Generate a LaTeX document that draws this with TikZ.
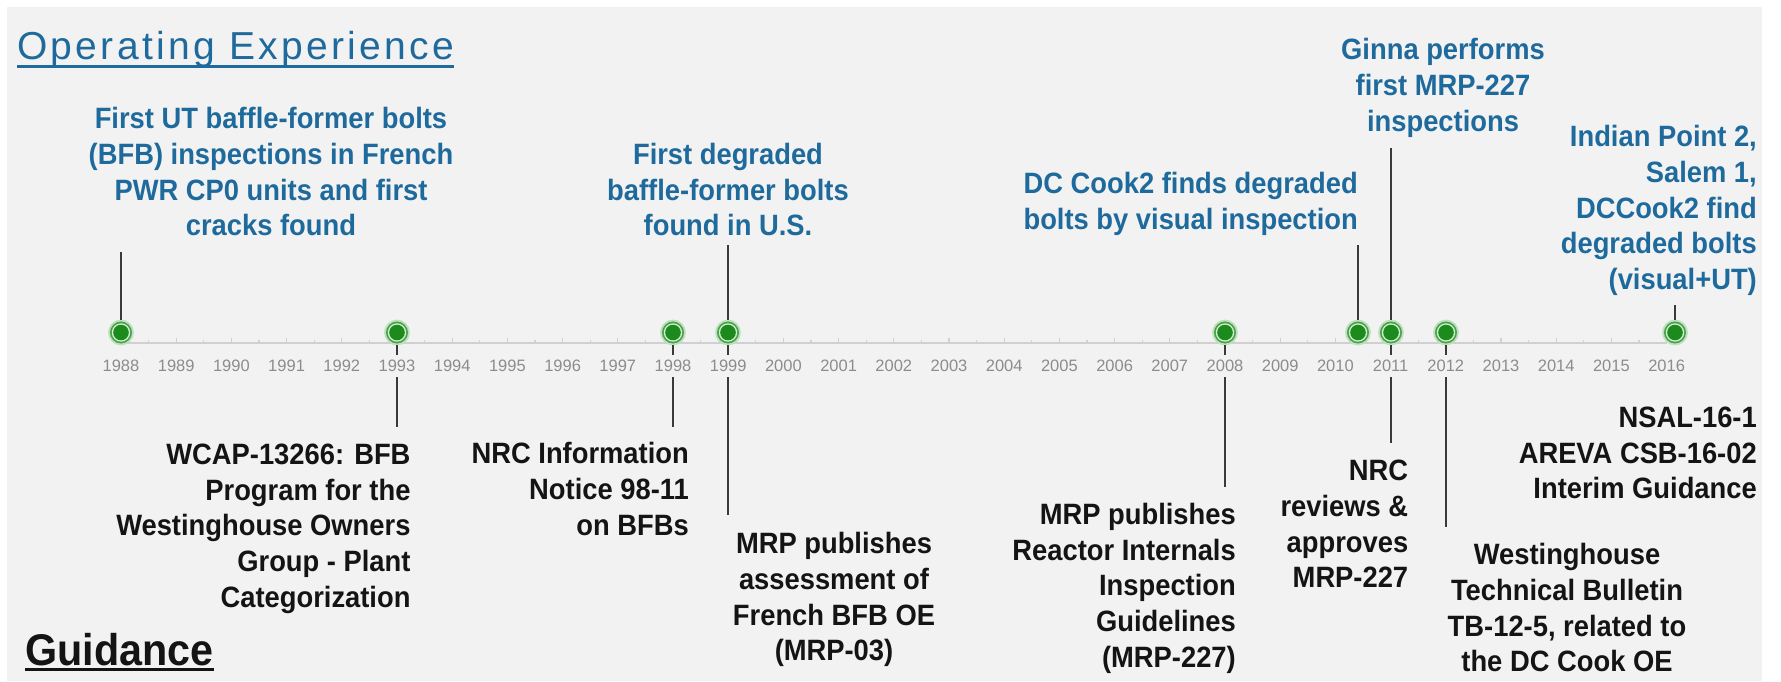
\documentclass[tikz,border=0pt]{standalone}
\usepackage{fontspec}
\setmainfont{Liberation Sans}
\newfontfamily\tlfont[FakeStretch=0.93]{Liberation Sans Bold}
\newfontfamily\headfont[LetterSpace=8.5]{Liberation Sans}
\definecolor{bg}{HTML}{F2F2F2}
\definecolor{oeblue}{HTML}{1F6A9C}
\definecolor{gdark}{HTML}{1C8A1C}
\definecolor{gmid}{HTML}{45A345}
\definecolor{gring}{HTML}{D6EDD6}
\definecolor{ghalo}{HTML}{BEE0BE}
\definecolor{yeargray}{HTML}{8C8C8C}
\definecolor{axisgray}{HTML}{D0D0D0}
\definecolor{conncol}{HTML}{3A3A3A}
\definecolor{gdblack}{HTML}{141414}
\newcommand{\tlstrut}{\rule{0pt}{22.3pt}}
\tikzset{
  evtext/.style={font=\tlfont\fontsize{29.4}{35.7}\selectfont, inner sep=0pt},
  oetext/.style={evtext, text=oeblue},
  gdtext/.style={evtext, text=gdblack},
  yearlbl/.style={font=\fontsize{16.5}{18}\selectfont, text=yeargray, fill=bg,
    inner xsep=1pt, inner ysep=0pt, minimum height=22pt},
  evmark/.style={circle, inner sep=0pt, minimum size=24pt, fill=gmid,
    draw=ghalo, line width=1.8pt,
    path picture={\fill[gring] (path picture bounding box.center) circle (9.2pt);
                  \fill[gdark] (path picture bounding box.center) circle (7.8pt);}},
  connline/.style={draw=conncol, line width=1.5pt},
  axisline/.style={draw=axisgray, line width=1.3pt},
}
\begin{document}
\begin{tikzpicture}[x=1pt,y=-1pt]
\useasboundingbox (0,0) rectangle (1781,681);
\fill[white] (0,0) rectangle (1781,681);
\fill[bg] (7,7) rectangle (1762,681);

% axis
\draw[axisline] (121,343) -- (1667,343);
\foreach \i in {0,...,28} \draw[axisline] ({121+\i*55.2},343) -- ++(0,-5);
\foreach \i in {0,...,27} \draw[axisline] ({121+(\i+0.5)*55.2},343) -- ++(0,-3);

% markers
\node[evmark] (m1988) at (121,332.5) {};
\node[evmark] (m1993) at (397,332.5) {};
\node[evmark] (m1998) at (673,332.5) {};
\node[evmark] (m1999) at (728,332.5) {};
\node[evmark] (m2008) at (1225,332.5) {};
\node[evmark] (m2010) at (1358,332.5) {};
\node[evmark] (m2011) at (1391,332.5) {};
\node[evmark] (m2012) at (1446,332.5) {};
\node[evmark] (m2016) at (1675,332.5) {};

% headings
\node[font=\headfont\fontsize{39}{44}\selectfont, text=oeblue, inner sep=0pt, anchor=base west]
  (oehead) at (17,59.3) {Operating Experience};
\draw[oeblue, line width=3.2pt] ([yshift=-7.4pt]oehead.base west) -- ([yshift=-7.4pt]oehead.base east);
\node[font=\tlfont\fontsize{44.4}{50}\selectfont, text=gdblack, inner sep=0pt, anchor=base west]
  (gdhead) at (25,665) {Guidance};
\draw[gdblack, line width=3.5pt] ([yshift=-4.5pt]gdhead.base west) -- ([yshift=-4.5pt]gdhead.base east);

% operating experience texts
\node[oetext, align=center, anchor=north] (tA) at (271,106.3)
  {\tlstrut First UT baffle-former bolts\\(BFB) inspections in French\\PWR CP0 units and first\\cracks found};
\node[oetext, align=center, anchor=north] (tB) at (728,142)
  {\tlstrut First degraded\\baffle-former bolts\\found in U.S.};
\node[oetext, align=right, anchor=north east] (tC) at (1358,171.3)
  {\tlstrut DC Cook2 finds degraded\\bolts by visual inspection};
\node[oetext, align=center, anchor=north] (tD) at (1443,37.3)
  {\tlstrut Ginna performs\\first MRP-227\\inspections};
\node[oetext, align=right, anchor=north east] (tE) at (1757,124.3)
  {\tlstrut Indian Point 2,\\Salem 1,\\DCCook2 find\\degraded bolts\\(visual+UT)};

% guidance texts
\node[gdtext, align=right, anchor=north east] (tF) at (410.7,441.8)
  {\tlstrut WCAP-13266: BFB\\Program for the\\Westinghouse Owners\\Group - Plant\\Categorization};
\node[gdtext, align=right, anchor=north east] (tG) at (689,441.3)
  {\tlstrut NRC Information\\Notice 98-11\\on BFBs};
\node[gdtext, align=center, anchor=north] (tH) at (834,531.3)
  {\tlstrut MRP publishes\\assessment of\\French BFB OE\\(MRP-03)};
\node[gdtext, align=right, anchor=north east] (tI) at (1236,501.8)
  {\tlstrut MRP publishes\\Reactor Internals\\Inspection\\Guidelines\\(MRP-227)};
\node[gdtext, align=right, anchor=north east] (tJ) at (1408.4,458.3)
  {\tlstrut NRC\\reviews \&\\approves\\MRP-227};
\node[gdtext, align=center, anchor=north] (tK) at (1567,542.3)
  {\tlstrut Westinghouse\\Technical Bulletin\\TB-12-5, related to\\the DC Cook OE};
\node[gdtext, align=right, anchor=north east] (tL) at (1757,404.8)
  {\tlstrut NSAL-16-1\\AREVA CSB-16-02\\Interim Guidance};

% connector ends
\coordinate (cA) at (121,252);
\coordinate (cB) at (728,245);
\coordinate (cC) at (1358,245);
\coordinate (cD) at (1391,148);
\coordinate (cE) at (1675,305);
\coordinate (cF) at (397,426.7);
\coordinate (cG) at (673,426.7);
\coordinate (cH) at (728,515);
\coordinate (cI) at (1225,486.7);
\coordinate (cJ) at (1391,443);
\coordinate (cK) at (1446,526.7);

\draw[connline] (m1988) -- (cA);
\draw[connline] (m1999) -- (cB);
\draw[connline] (m2010) -- (cC);
\draw[connline] (m2011) -- (cD);
\draw[connline] (m2016) -- (cE);
\draw[connline] (m1993) -- (cF);
\draw[connline] (m1998) -- (cG);
\draw[connline] (m1999) -- (cH);
\draw[connline] (m2008) -- (cI);
\draw[connline] (m2011) -- (cJ);
\draw[connline] (m2012) -- (cK);

% year labels
\foreach \i in {0,...,28} {
  \pgfmathtruncatemacro\yr{1988+\i}
  \node[yearlbl] (y\yr) at ({121+\i*55.2},366) {\yr};
}
\end{tikzpicture}
\end{document}
